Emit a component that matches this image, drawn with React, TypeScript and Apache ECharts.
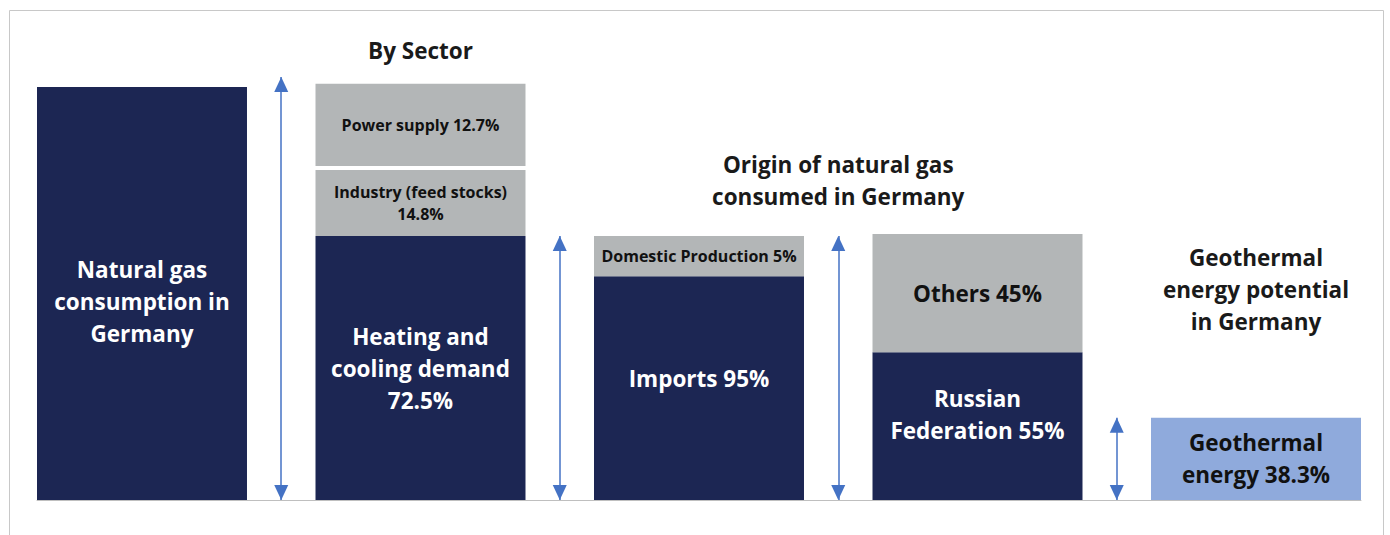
import React, { useEffect, useRef } from "react";
import * as echarts from "echarts";

// ---- Data (segment heights in % of total natural gas consumption, as drawn) ----
const barPositions = [0, 1, 2, 3, 4];
const baseValues = [100, 63.9, 54.2, 35.8, 19.9];
const baseLabels = [
  "Natural gas\nconsumption in\nGermany",
  "Heating and\ncooling demand\n72.5%",
  "Imports 95%",
  "Russian\nFederation 55%",
  "Geothermal\nenergy 38.3%",
];
const middleValues = [0, 16.0, 9.7, 28.6, 0];
const middleLabels = ["", "Industry (feed stocks)\n14.8%", "Domestic Production 5%", "Others 45%", ""];
const gapValues = [0, 1.0, 0, 0, 0];
const topValues = [0, 19.9, 0, 0, 0];
const topLabels = ["", "Power supply 12.7%", "", "", ""];

const arrowX = [0.5, 1.5, 2.5, 3.5];
const arrowTop = [102.4, 63.9, 63.9, 19.9];

const groupTitles = ["By Sector", "Origin of natural gas\nconsumed in Germany", "Geothermal\nenergy potential\nin Germany"];
const groupTitleX = [1, 2.5, 4];

// ---- Styles ----
const NAVY = "#1c2653";
const GRAY = "#b3b6b7";
const LIGHT = "#8faadc";
const ARROW = "#4472c4";
const FONT = "'Open Sans', Lato, sans-serif";
const BIG = 22.5;
const SMALL = 16;
const baseLabelShift = [8, 0, -10, -12, 0];

const GRID_LEFT = 37;
const GRID_RIGHT = 29;
const BAR_UNITS = 0.754;
const X_MIN = -BAR_UNITS / 2;
const X_MAX = 4 + BAR_UNITS / 2;
const WIDTH = 1390;
const HEIGHT = 535;

type Seg = { x: number; lo: number; hi: number; label: string; color: string; textColor: string; size: number; lh: number; dy: number };

function buildSegments(): Seg[] {
  const segs: Seg[] = [];
  barPositions.forEach((x, i) => {
    const b = baseValues[i];
    const last = i === barPositions.length - 1;
    segs.push({
      x, lo: 0, hi: b, label: baseLabels[i],
      color: last ? LIGHT : NAVY, textColor: last ? "#111" : "#fff", size: BIG, lh: 32, dy: baseLabelShift[i],
    });
    let acc = b;
    if (middleValues[i] > 0) {
      const big = middleLabels[i].length < 12;
      segs.push({ x, lo: acc, hi: acc + middleValues[i], label: middleLabels[i], color: GRAY, textColor: "#111", size: big ? BIG : SMALL, lh: big ? 32 : 22, dy: 0 });
      acc += middleValues[i];
    }
    acc += gapValues[i];
    if (topValues[i] > 0) {
      segs.push({ x, lo: acc, hi: acc + topValues[i], label: topLabels[i], color: GRAY, textColor: "#111", size: SMALL, lh: 22, dy: 0 });
    }
  });
  return segs;
}

export default function App() {
  const ref = useRef<HTMLDivElement>(null);
  useEffect(() => {
    if (!ref.current) return;
    const chart = echarts.init(ref.current, undefined, { renderer: "svg" });
    const segs = buildSegments();
    const gridW = WIDTH - GRID_LEFT - GRID_RIGHT;
    const toPx = (v: number) => GRID_LEFT + ((v - X_MIN) / (X_MAX - X_MIN)) * gridW;
    const titleTops = [34, 148, 241];

    chart.setOption({
      animation: false,
      backgroundColor: "#fff",
      title: groupTitles.map((t, i) => ({
        text: t,
        left: toPx(groupTitleX[i]),
        top: titleTops[i],
        textAlign: "center",
        padding: 0,
        textStyle: { fontFamily: FONT, fontSize: BIG, fontWeight: "bold", color: "#1a1a1a", lineHeight: 32 },
      })),
      graphic: [
        {
          type: "rect",
          shape: { x: 9.5, y: 10.5, width: 1374, height: 600 },
          style: { fill: "none", stroke: "#c8c8c8", lineWidth: 1 },
          silent: true,
          z: -10,
        },
      ],
      grid: { left: GRID_LEFT, right: GRID_RIGHT, top: 4.4, bottom: 35 },
      xAxis: {
        type: "value",
        min: X_MIN,
        max: X_MAX,
        axisLine: { show: true, lineStyle: { color: "#bfbfbf", width: 1 } },
        axisTick: { show: false },
        axisLabel: { show: false },
        splitLine: { show: false },
      },
      yAxis: { type: "value", min: 0, max: 120, show: false, splitLine: { show: false } },
      series: [
        {
          type: "custom",
          silent: true,
          data: segs.map((s) => [s.x, s.lo, s.hi]),
          renderItem: (params: any, api: any) => {
            const s = segs[params.dataIndex];
            const x = api.value(0);
            const bl = api.coord([x, api.value(1)]);
            const tr = api.coord([x, api.value(2)]);
            const w = api.size([BAR_UNITS, 0])[0];
            return {
              type: "rect",
              shape: { x: bl[0] - w / 2, y: tr[1], width: w, height: bl[1] - tr[1] },
              style: { fill: s.color },
              textContent: {
                style: {
                  text: s.label,
                  fill: s.textColor,
                  fontFamily: FONT,
                  fontWeight: "bold",
                  fontSize: s.size,
                  lineHeight: s.lh,
                  align: "center",
                },
              },
              textConfig: { position: "inside", offset: [0, s.dy] },
            };
          },
          markLine: {
            silent: true,
            symbol: ["triangle", "triangle"],
            symbolSize: [14, 15],
            symbolOffset: [[0, 7.5], [0, 7.5]],
            label: { show: false },
            lineStyle: { color: ARROW, width: 1.5, type: "solid" },
            emphasis: { disabled: true },
            data: arrowX.map((x, i) => [{ coord: [x, arrowTop[i]] }, { coord: [x, 0] }]),
          },
        },
      ],
    });
    return () => chart.dispose();
  }, []);
  return <div ref={ref} style={{ position: "fixed", left: 0, top: 0, width: WIDTH, height: HEIGHT }} />;
}
